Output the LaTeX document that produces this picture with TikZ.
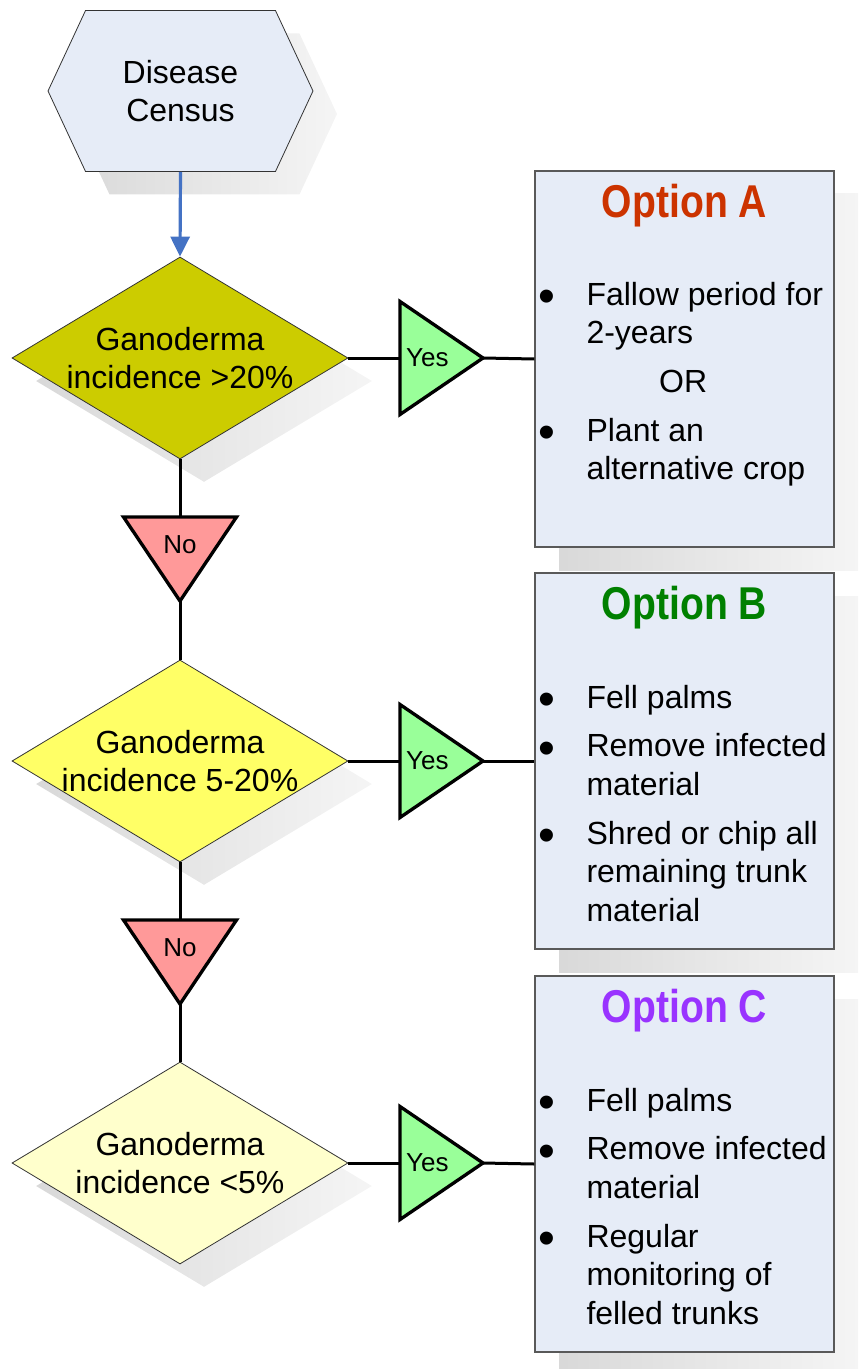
\documentclass[tikz,border=0pt]{standalone}
\usepackage{fontspec}
\usepackage{graphicx}
\setmainfont{Liberation Sans}
\newfontfamily\optfont{Liberation Sans}[FakeStretch=0.85]
\usetikzlibrary{shapes.geometric,shapes.symbols,shadows,arrows.meta,calc}
\definecolor{boxfill}{HTML}{E6ECF7}
\definecolor{dOne}{HTML}{CCCC00}
\definecolor{dTwo}{HTML}{FFFF66}
\definecolor{dThree}{HTML}{FFFFCC}
\definecolor{yesfill}{HTML}{99FF99}
\definecolor{nofill}{HTML}{FF9999}
\definecolor{optA}{HTML}{CC3300}
\definecolor{optB}{HTML}{008000}
\definecolor{optC}{HTML}{9933FF}
\definecolor{arrowblue}{HTML}{4472C4}
\newcommand{\mainsize}{\fontsize{24}{29}\selectfont}
\newcommand{\anssize}{\fontsize{19.5}{23}\selectfont}
\newcommand{\itemgap}{7.5pt}
\newcommand{\bul}{\raisebox{-0.24em}{\scalebox{1.5}{\textbullet}}}

\begin{document}
\begin{tikzpicture}[x=0.75pt, y=-0.75pt,
    softshadow/.style={general shadow={shadow xshift=18pt, shadow yshift=-17.25pt,
                left color=black!15, right color=black!4}},
    hexbox/.style={signal, signal to=west and east, signal pointer angle=130,
                minimum width=198.75pt, minimum height=120.75pt, inner sep=0pt,
                fill=boxfill, draw=black!80, line width=0.6pt, align=center, font=\mainsize, softshadow},
    diffbox/.style={diamond, minimum width=252pt, minimum height=151.5pt, inner sep=0pt,
                draw=black!80, line width=0.6pt, softshadow},
    difftext/.style={align=center, font=\mainsize, inner sep=0pt},
    yestri/.style={isosceles triangle, isosceles triangle stretches, shape border rotate=0,
                minimum width=84.75pt, minimum height=62.25pt, inner sep=0pt, outer sep=0pt,
                fill=yesfill, draw=black, line width=2.5pt},
    notri/.style={isosceles triangle, isosceles triangle stretches, shape border rotate=270,
                minimum width=84.75pt, minimum height=63pt, inner sep=0pt, outer sep=0pt,
                fill=nofill, draw=black, line width=2.5pt},
    anstext/.style={font=\anssize, inner sep=0pt},
    optbox/.style={rectangle, minimum width=224.25pt, minimum height=282pt, inner sep=0pt,
                fill=boxfill, draw=black!65, line width=1.1pt, softshadow},
    opttitle/.style={font=\optfont\bfseries\fontsize{34.5}{40}\selectfont, inner sep=0pt},
    optlist/.style={font=\mainsize, inner sep=0pt},
    link/.style={line width=2.25pt},
    flowarrow/.style={-{Triangle[width=14.25pt, length=15pt]}, line width=2.4pt, draw=arrowblue}
]
\useasboundingbox (0,0) rectangle (864,1369);

% Disease census
\node[hexbox] (census) at (180.5,91) {Disease\\Census};

% Decisions
\node[diffbox, fill=dOne] (dA) at (180,358) {};
\node[difftext] (tA) at (dA.center) {Ganoderma\\incidence >20\%};

\node[diffbox, fill=dTwo] (dB) at (180,761) {};
\node[difftext] (tB) at (dB.center) {Ganoderma\\incidence 5-20\%};

\node[diffbox, fill=dThree] (dC) at (180,1163) {};
\node[difftext] (tC) at (dC.center) {Ganoderma\\incidence <5\%};

% Yes / No
\node[yestri, anchor=lower side] (yA) at (400,358) {};
\node[anstext] at ($(yA.lower side)!0.33!(yA.apex)$) {Yes};
\node[yestri, anchor=lower side] (yB) at (400,761) {};
\node[anstext] at ($(yB.lower side)!0.33!(yB.apex)$) {Yes};
\node[yestri, anchor=lower side] (yC) at (400,1163) {};
\node[anstext] at ($(yC.lower side)!0.33!(yC.apex)$) {Yes};

\node[notri, anchor=lower side] (nA) at (180,517) {};
\node[anstext] at ($(nA.lower side)!0.33!(nA.apex)$) {No};
\node[notri, anchor=lower side] (nB) at (180,920) {};
\node[anstext] at ($(nB.lower side)!0.33!(nB.apex)$) {No};

% Option A
\node[optbox] (oA) at (684.5,359) {};
\node[opttitle, text=optA, anchor=base] (hA) at ([yshift=-35.25pt]oA.north) {Option A};
\node[optlist, anchor=base west] (lA) at ([xshift=3pt, yshift=-101.25pt]oA.north west) {%
\begin{tabular}[t]{@{}p{36pt}@{}p{181pt}@{}}
\bul & Fallow period for\\
 & 2-years\\[\itemgap]
\multicolumn{2}{@{}c@{}}{OR}\\[\itemgap]
\bul & Plant an\\
 & alternative crop
\end{tabular}};

% Option B
\node[optbox] (oB) at (684.5,761) {};
\node[opttitle, text=optB, anchor=base] (hB) at ([yshift=-35.25pt]oB.north) {Option B};
\node[optlist, anchor=base west] (lB) at ([xshift=3pt, yshift=-102pt]oB.north west) {%
\begin{tabular}[t]{@{}p{36pt}@{}p{181pt}@{}}
\bul & Fell palms\\[\itemgap]
\bul & Remove infected\\
 & material\\[\itemgap]
\bul & Shred or chip all\\
 & remaining trunk\\
 & material
\end{tabular}};

% Option C
\node[optbox] (oC) at (684.5,1164) {};
\node[opttitle, text=optC, anchor=base] (hC) at ([yshift=-35.25pt]oC.north) {Option C};
\node[optlist, anchor=base west] (lC) at ([xshift=3pt, yshift=-102pt]oC.north west) {%
\begin{tabular}[t]{@{}p{36pt}@{}p{181pt}@{}}
\bul & Fell palms\\[\itemgap]
\bul & Remove infected\\
 & material\\[\itemgap]
\bul & Regular\\
 & monitoring of\\
 & felled trunks
\end{tabular}};

% Arrows
\draw[flowarrow] (census.south) -- (dA.north);
\draw[link] (dA.east) -- (yA.lower side);
\draw[link] (yA.apex) -- (oA.west);
\draw[link] (dB.east) -- (yB.lower side);
\draw[link] (yB.apex) -- (oB.west);
\draw[link] (dC.east) -- (yC.lower side);
\draw[link] (yC.apex) -- (oC.west);
\draw[link] (dA.south) -- (nA.lower side);
\draw[link] (nA.apex) -- (dB.north);
\draw[link] (dB.south) -- (nB.lower side);
\draw[link] (nB.apex) -- (dC.north);
\end{tikzpicture}
\end{document}
